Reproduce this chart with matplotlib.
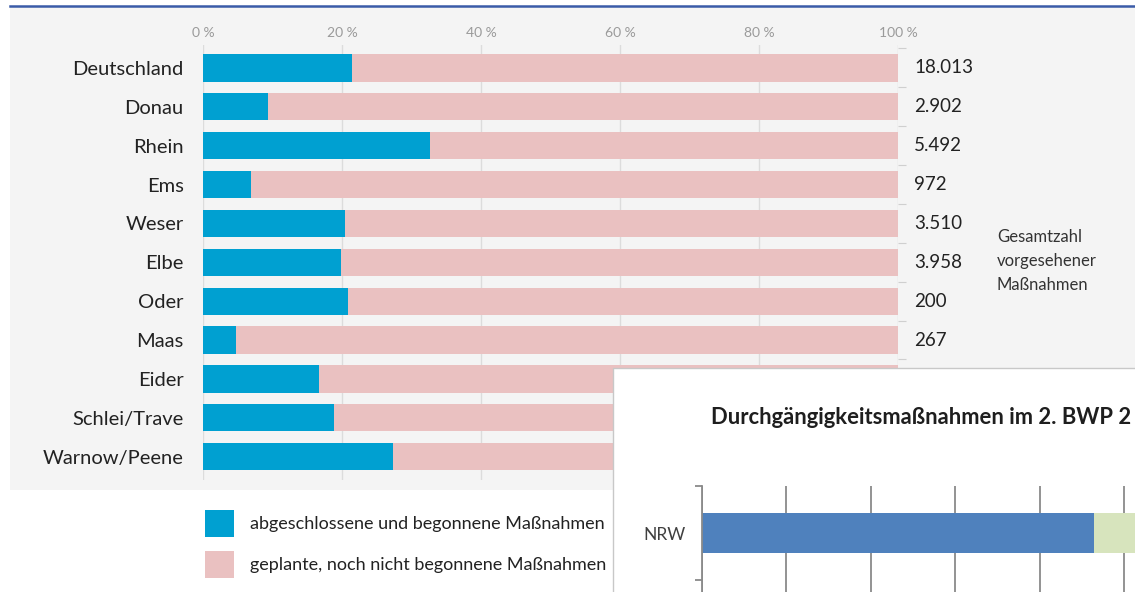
import matplotlib
matplotlib.use("Agg")
import matplotlib.pyplot as plt
from matplotlib.patches import Rectangle

# Flussgebiete, Anteil abgeschlossener/begonnener Massnahmen in %
regions = ['Deutschland', 'Donau', 'Rhein', 'Ems', 'Weser', 'Elbe', 'Oder',
           'Maas', 'Eider', 'Schlei/Trave', 'Warnow/Peene']
done_pct = [21.5, 9.3, 32.6, 6.9, 20.4, 19.9, 20.9, 4.7, 16.7, 18.8, 27.3]
planned_pct = [100 - v for v in done_pct]
# Gesamtzahl (letzte drei im Bild verdeckt)
totals = ['18.013', '2.902', '5.492', '972', '3.510', '3.958', '200', '267',
          None, None, None]
x_ticks = [0, 20, 40, 60, 80, 100]
x_ticklabels = ['0 %', '20 %', '40 %', '60 %', '80 %', '100 %']
legend_labels = ['abgeschlossene und begonnene Maßnahmen',
                 'geplante, noch nicht begonnene Maßnahmen']

# eingeblendeter Ausschnitt (NRW)
inset_cats = ['NRW']
inset_blue = [46.5]
inset_green = [53.5]
inset_title = 'Durchgängigkeitsmaßnahmen im 2. BWP 2'

BLUE = '#00a0d1'
PINK = '#eac1c1'
W, H = 1135, 592

plt.rcParams['font.family'] = ['Lato', 'DejaVu Sans']

fig = plt.figure(figsize=(W / 100, H / 100), dpi=100)
fig.patch.set_facecolor('white')


def fx(px):
    return px / W


def fy(py):
    return 1 - py / H


# grauer Hintergrund + blaue Linie oben
fig.patches.append(Rectangle((fx(10), fy(490)), fx(W - 10) + 0.01, (490 - 7) / H,
                             transform=fig.transFigure, facecolor='#f4f4f4',
                             edgecolor='none', zorder=-5))
fig.add_artist(plt.Line2D([fx(10), 1.0], [fy(6), fy(6)], color='#3a5ba8', lw=1.8,
                          transform=fig.transFigure))

ax = fig.add_axes([fx(203), fy(480), fx(898 - 203), (480 - 45) / H])
ax.set_facecolor('none')
y = list(range(len(regions)))
ax.barh(y, done_pct, height=0.7, color=BLUE, zorder=2)
ax.barh(y, planned_pct, left=done_pct, height=0.7, color=PINK, zorder=2)
ax.set_xlim(0, 100)
ax.set_ylim(10.6, -0.59)
for s in ax.spines.values():
    s.set_visible(False)
ax.xaxis.tick_top()
ax.set_xticks(x_ticks)
ax.set_xticklabels(x_ticklabels, color='#9a9a9a', fontsize=10)
ax.tick_params(axis='x', length=0, pad=4)
ax.grid(axis='x', color='#dcdcdc', lw=1, zorder=1)
ax.set_yticks(y)
ax.set_yticklabels(regions, fontsize=14.5, color='#222222')
ax.tick_params(axis='y', length=0, pad=14)
# kleine Striche rechts zwischen den Balken
ax.hlines([i + 0.5 for i in range(-1, len(regions))], 100, 101.2,
          color='#cfcfcf', lw=0.8, clip_on=False)

for i, t in enumerate(totals):
    if t is not None:
        ax.text(102.3, i, t, va='center', ha='left', fontsize=13.5, color='#222222',
                clip_on=False)

fig.text(fx(997), fy(261), 'Gesamtzahl\nvorgesehener\nMaßnahmen', fontsize=12,
         color='#333333', va='center', ha='left', linespacing=1.6)

# Legende
for k, (lab, col) in enumerate(zip(legend_labels, [BLUE, PINK])):
    top = 510 + k * 41
    fig.patches.append(Rectangle((fx(205), fy(top + 27)), fx(29), 27 / H,
                                 transform=fig.transFigure, facecolor=col,
                                 edgecolor='none'))
    fig.text(fx(250), fy(top + 14), lab, fontsize=13, color='#222222',
             va='center', ha='left')

# eingeblendetes Excel-Diagramm
fig.patches.append(Rectangle((fx(613), -0.05), 1, fy(368) + 0.05,
                             transform=fig.transFigure, facecolor='white',
                             edgecolor='#c8c8c8', lw=1, zorder=5))
fig.text(fx(711), fy(418), inset_title, fontsize=15.8, fontweight='bold',
         color='#1e1e1e', va='center', ha='left', zorder=6)

ax2 = fig.add_axes([fx(702), fy(486 + 188), fx(844), 188 / H], zorder=6)
ax2.set_facecolor('none')
y2 = list(range(len(inset_cats)))
ax2.barh(y2, inset_blue, height=0.42, color='#4f81bd', zorder=2)
ax2.barh(y2, inset_green, left=inset_blue, height=0.42, color='#d7e4bd', zorder=2)
ax2.set_xlim(0, 100)
ax2.set_ylim(1.5, -0.5)
ax2.set_xticks(range(0, 101, 10))
ax2.tick_params(axis='x', length=0, labelbottom=False)
ax2.grid(axis='x', color='#8a8a8a', lw=1.3, zorder=1)
for k in ['top', 'right', 'bottom']:
    ax2.spines[k].set_visible(False)
ax2.spines['left'].set_color('#8a8a8a')
ax2.spines['left'].set_linewidth(1.3)
ax2.set_yticks(y2)
ax2.set_yticklabels(inset_cats, fontsize=12.5, color='#404040')
ax2.tick_params(axis='y', which='major', length=0, pad=12)
ax2.set_yticks([-0.5, 0.5], minor=True)
ax2.tick_params(axis='y', which='minor', length=5, color='#8a8a8a', width=1.3)

fig.savefig('out.png', dpi=100)
